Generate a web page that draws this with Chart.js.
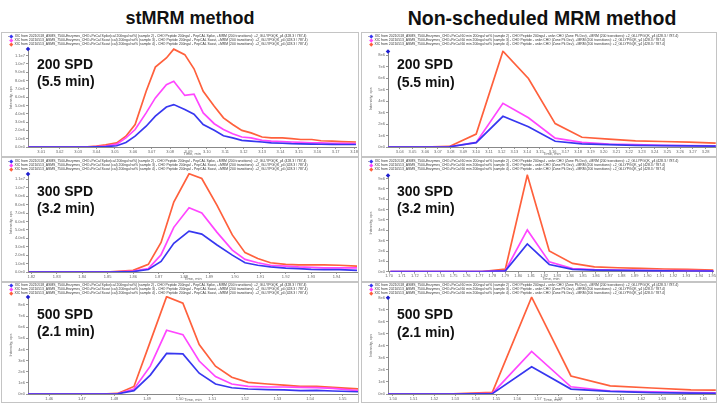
<!DOCTYPE html>
<html>
<head>
<meta charset="utf-8">
<script src="https://cdn.jsdelivr.net/npm/chart.js@4.4.1/dist/chart.umd.min.js"></script>
<style>
    body { margin: 0; background: #fff; font-family: "Liberation Sans", Arial, sans-serif; }
    #page { position: relative; width: 717px; height: 403px; overflow: hidden; }
    .title { position: absolute; top: 9px; font-weight: bold; font-size: 18px; line-height: 18px; transform: translateX(-50%); white-space: nowrap; color: #111; }
    .panel { position: absolute; border: 1px solid #c4c4c4; box-sizing: border-box; overflow: hidden; }
    .panel canvas { position: absolute; left: 0; top: 0; }
    .legend { position: absolute; left: 6px; font-size: 3.4px; line-height: 4px; white-space: nowrap; color: #333; }
    .legend i { display: inline-block; width: 2.5px; height: 2.5px; margin: 0 2px 0 1px; transform: rotate(45deg); }
    .spd { position: absolute; left: 35px; font-weight: bold; font-size: 14px; line-height: 17.4px; color: #111; white-space: nowrap; }
</style>
</head>
<body>
<div id="page">
    <div class="title" style="left:190px">stMRM method</div>
    <div class="title" style="left:542px;font-size:19.5px">Non-scheduled MRM method</div>

    <div class="panel" id="pTL" style="left:1px;top:32px;width:358px;height:125px"><canvas id="cTL" width="356" height="123"></canvas></div>
    <div class="panel" id="pTR" style="left:361px;top:32px;width:356px;height:125px"><canvas id="cTR" width="354" height="123"></canvas></div>
    <div class="panel" id="pML" style="left:1px;top:157px;width:358px;height:125px"><canvas id="cML" width="356" height="123"></canvas></div>
    <div class="panel" id="pMR" style="left:361px;top:157px;width:356px;height:125px"><canvas id="cMR" width="354" height="123"></canvas></div>
    <div class="panel" id="pBL" style="left:1px;top:282px;width:358px;height:121px"><canvas id="cBL" width="356" height="119"></canvas></div>
    <div class="panel" id="pBR" style="left:361px;top:282px;width:356px;height:121px"><canvas id="cBR" width="354" height="119"></canvas></div>
</div>
<script>
    // stMRM, 200 SPD
    const tlTime = [3.003, 3.014, 3.025, 3.035, 3.040, 3.045, 3.051, 3.056, 3.061, 3.067, 3.072, 3.078, 3.082, 3.088, 3.093, 3.098, 3.104, 3.109, 3.114, 3.119, 3.124, 3.130, 3.135, 3.141, 3.146, 3.151, 3.157, 3.162, 3.168, 3.173, 3.181];
    const tlBlue = [0, 0, 0, 0, 0.02, 0.05, 0.15, 0.55, 1.3, 2.5, 3.7, 4.8, 5.1, 4.5, 3.95, 2.7, 2.0, 1.35, 1.1, 0.8, 0.7, 0.6, 0.5, 0.45, 0.4, 0.38, 0.35, 0.33, 0.32, 0.3, 0.3];
    const tlPink = [0, 0, 0, 0, 0.05, 0.1, 0.35, 1.1, 2.1, 4.1, 5.9, 7.5, 7.9, 6.2, 6.35, 4.1, 2.8, 2.1, 1.6, 1.2, 1.1, 0.8, 0.7, 0.65, 0.6, 0.55, 0.5, 0.5, 0.45, 0.45, 0.4];
    const tlRed = [0, 0, 0, 0.02, 0.1, 0.25, 0.5, 1.3, 2.7, 6.7, 9.6, 10.7, 11.76, 11.1, 9.4, 6.7, 4.9, 3.5, 2.7, 2.0, 1.7, 1.2, 1.1, 1.1, 1.0, 0.9, 0.9, 0.75, 0.7, 0.65, 0.6];
    const tlTicks = [3.01, 3.02, 3.03, 3.04, 3.05, 3.06, 3.07, 3.08, 3.09, 3.10, 3.11, 3.12, 3.13, 3.14, 3.15, 3.16, 3.17, 3.18];

    // non-scheduled, 200 SPD
    const trTime = [3.016, 3.037, 3.058, 3.079, 3.100, 3.121, 3.141, 3.162, 3.183, 3.204, 3.225, 3.246, 3.267, 3.288];
    const trBlue = [0, 0, 0, 0.02, 0.38, 2.67, 1.76, 0.5, 0.28, 0.2, 0.15, 0.12, 0.1, 0.08];
    const trPink = [0, 0, 0, 0.02, 0.4, 3.8, 2.55, 0.77, 0.4, 0.25, 0.2, 0.15, 0.12, 0.1];
    const trRed = [0, 0, 0, 0.05, 1.13, 8.34, 5.96, 2.04, 0.85, 0.68, 0.54, 0.48, 0.43, 0.34];
    const trTicks = [3.04, 3.05, 3.06, 3.07, 3.08, 3.09, 3.10, 3.11, 3.12, 3.13, 3.14, 3.15, 3.16, 3.17, 3.18, 3.19, 3.20, 3.21, 3.22, 3.23, 3.24, 3.25, 3.26, 3.27, 3.28];

    // stMRM, 300 SPD
    const mlTime = [1.819, 1.830, 1.841, 1.851, 1.860, 1.866, 1.871, 1.876, 1.882, 1.887, 1.893, 1.899, 1.904, 1.909, 1.914, 1.920, 1.925, 1.930, 1.935, 1.941, 1.948];
    const mlBlue = [0, 0, 0, 0, 0.05, 0.3, 1.26, 3.4, 4.86, 4.5, 3.2, 2.0, 1.1, 0.8, 0.6, 0.45, 0.4, 0.32, 0.28, 0.28, 0.2];
    const mlPink = [0, 0, 0, 0, 0.1, 0.4, 2.05, 5.3, 7.63, 7.0, 4.7, 2.6, 1.5, 1.1, 0.8, 0.7, 0.6, 0.55, 0.5, 0.5, 0.48];
    const mlRed = [0, 0, 0, 0.02, 0.2, 0.9, 3.5, 8.3, 11.66, 11.1, 7.9, 4.4, 2.3, 1.6, 1.1, 0.9, 0.85, 0.85, 0.85, 0.8, 0.7];
    const mlTicks = [1.82, 1.83, 1.84, 1.85, 1.86, 1.87, 1.88, 1.89, 1.90, 1.91, 1.92, 1.93, 1.94];

    // non-scheduled, 300 SPD
    const mrTime = [1.701, 1.718, 1.736, 1.754, 1.772, 1.790, 1.807, 1.824, 1.842, 1.859, 1.877, 1.895, 1.913, 1.931, 1.951];
    const mrBlue = [0, 0, 0, 0, 0, 0.08, 2.68, 0.7, 0.22, 0.15, 0.12, 0.1, 0.08, 0.07, 0.06];
    const mrPink = [0, 0, 0, 0, 0, 0.1, 4.04, 0.95, 0.3, 0.2, 0.15, 0.12, 0.1, 0.1, 0.08];
    const mrRed = [0, 0, 0, 0, 0.02, 0.25, 9.35, 2.0, 0.8, 0.47, 0.38, 0.32, 0.26, 0.22, 0.15];
    const mrTicks = [1.70, 1.71, 1.72, 1.73, 1.74, 1.75, 1.76, 1.77, 1.78, 1.79, 1.80, 1.81, 1.82, 1.83, 1.84, 1.85, 1.86, 1.87, 1.88, 1.89, 1.90, 1.91, 1.92, 1.93, 1.94, 1.95];

    // stMRM, 500 SPD
    const blTime = [1.4535, 1.460, 1.466, 1.471, 1.476, 1.481, 1.486, 1.491, 1.496, 1.501, 1.506, 1.511, 1.516, 1.521, 1.527, 1.532, 1.537, 1.542, 1.547, 1.555];
    const blBlue = [0, 0, 0, 0, 0, 0.02, 0.3, 1.7, 3.64, 3.6, 1.87, 0.9, 0.56, 0.45, 0.4, 0.37, 0.3, 0.33, 0.27, 0.2];
    const blPink = [0, 0, 0, 0, 0, 0.02, 0.45, 2.5, 5.72, 5.33, 2.96, 1.57, 0.9, 0.68, 0.63, 0.63, 0.6, 0.57, 0.5, 0.3];
    const blRed = [0, 0, 0, 0, 0, 0.05, 0.68, 4.7, 8.74, 8.15, 4.44, 2.5, 1.5, 1.04, 0.9, 0.8, 0.68, 0.68, 0.6, 0.45];
    const blTicks = [1.46, 1.47, 1.48, 1.49, 1.50, 1.51, 1.52, 1.53, 1.54, 1.55];

    // non-scheduled, 500 SPD
    const brTime = [1.491, 1.510, 1.529, 1.548, 1.567, 1.586, 1.605, 1.625, 1.644, 1.656];
    const brBlue = [0, 0, 0, 0.03, 2.27, 0.41, 0.22, 0.12, 0.08, 0.06];
    const brPink = [0, 0, 0, 0.05, 3.55, 0.6, 0.25, 0.18, 0.12, 0.1];
    const brRed = [0, 0, 0.02, 0.14, 8.06, 1.5, 0.68, 0.5, 0.35, 0.33];
    const brTicks = [1.50, 1.51, 1.52, 1.53, 1.54, 1.55, 1.56, 1.57, 1.58, 1.59, 1.60, 1.61, 1.62, 1.63, 1.64, 1.65];

    const stLegend = [
        "XIC from 20210518_ASMS_7500-Enzymes_CHO+PeCal Spike(cal 200ngul wt%) (sample 2) - CHO Peptide 200ngul - PepCAL Spike, +MRM (200 transitions): +2_GLLYPGQK_y4 (428.3 / 787.4)",
        "XIC from 20210513_ASMS_7500-Enzymes_CHO+PeCal Scout (cal) 200ngul wt% (sample 3) - CHO Peptide 200ngul - PepCAL Scout, +MRM (200 transitions): +2_GLLYPGQK_y4 (428.3 / 787.4)",
        "XIC from 20210513_ASMS_7500-Enzymes_CHO+PeCal Scout (cal) 200ngul wt% (sample 4) - CHO Peptide 200ngul - PepCAL Scout, +MRM (200 transitions): +2_GLLYPGQK_y4 (428.3 / 787.4)",
    ];
    const nsLegend = [
        "XIC from 20210518_ASMS_7500-Enzymes_CHO+PeCal 60 min 200ngul wt% (sample 2) - CHO Peptide 200ngul - unkn CHO (Zone Pk Dev), +MRM (200 transitions): +2_GLLYPGQK_y4 (428.3 / 787.4)",
        "XIC from 20210513_ASMS_7500-Enzymes_CHO+PeCal 60 min 200ngul wt% (sample 3) - CHO Peptide - unkn CHO (Zone Pk Dev), +MRM (200 transitions): +2_GLLYPGQK_y4 (428.3 / 787.4)",
        "XIC from 20210513_ASMS_7500-Enzymes_CHO+PeCal 60 min 200ngul wt% (sample 4) - CHO Peptide - unkn CHO (Zone Pk Dev), +MRM (200 transitions): +2_GLLYPGQK_y4 (428.3 / 787.4)",
    ];

    const BLUE = "rgb(55, 55, 240)";
    const PINK = "rgb(255, 70, 255)";
    const RED = "rgb(255, 96, 60)";

    Chart.defaults.font.family = "'Liberation Sans', Arial, sans-serif";

    const longFmt = (v) => (v === 0 ? "0.0e0" : (v * 1e6).toExponential(1).replace("+", ""));
    const shortFmt = (v) => (v === 0 ? "0e0" : (v * 1e6).toExponential(0).replace("+", ""));

    // little blue selection marker that Analyst puts at the top of the y axis
    const cornerMark = {
        id: "cornerMark",
        afterDraw(chart) {
            const { ctx, chartArea } = chart;
            ctx.save();
            ctx.fillStyle = "#1f1fd0";
            ctx.translate(chartArea.left, chartArea.top + 1);
            ctx.rotate(Math.PI / 4);
            ctx.fillRect(-1.6, -1.6, 3.2, 3.2);
            ctx.restore();
        },
    };

    function pts(time, vals) {
        return time.map((t, i) => ({ x: t, y: vals[i] }));
    }

    function addOverlay(panelId, legendLines, legendTop, spdText, spdTop) {
        const panel = document.getElementById(panelId);
        const colors = [BLUE, PINK, RED];
        legendLines.forEach((txt, i) => {
            const d = document.createElement("div");
            d.className = "legend";
            d.style.top = legendTop + i * 4 + "px";
            d.innerHTML = (i === 0 ? "-" : "&nbsp;") + '<i style="background:' + colors[i] + '"></i>';
            d.appendChild(document.createTextNode(txt));
            panel.appendChild(d);
        });
        const s = document.createElement("div");
        s.className = "spd";
        s.style.top = spdTop + "px";
        s.innerHTML = spdText[0] + "<br>" + spdText[1];
        panel.appendChild(s);
    }

    function makeChart(id, cfg) {
        const tickFont = { size: 4 };
        new Chart(document.getElementById(id), {
            type: "line",
            data: {
                datasets: [
                    { label: "sample 2", data: pts(cfg.time, cfg.blue), borderColor: BLUE },
                    { label: "sample 3", data: pts(cfg.time, cfg.pink), borderColor: PINK },
                    { label: "sample 4", data: pts(cfg.time, cfg.red), borderColor: RED },
                ],
            },
            options: {
                responsive: false,
                animation: false,
                layout: { padding: { top: cfg.top, right: 0, bottom: 0, left: 0 } },
                elements: {
                    point: { radius: 0 },
                    line: { borderWidth: 1.7, tension: 0, fill: false },
                },
                plugins: {
                    legend: { display: false },
                    tooltip: { enabled: false },
                },
                scales: {
                    x: {
                        type: "linear",
                        min: cfg.xMin,
                        max: cfg.xMax,
                        afterBuildTicks: (s) => {
                            s.ticks = cfg.ticks.map((v) => ({ value: v }));
                        },
                        afterFit: (s) => {
                            s.height = cfg.bottom;
                        },
                        ticks: {
                            font: tickFont,
                            color: "#666",
                            padding: 0,
                            maxRotation: 0,
                            autoSkip: false,
                            callback: (v) => v.toFixed(2),
                        },
                        grid: { drawOnChartArea: false, tickLength: 2, color: "#999" },
                        border: { color: "#888" },
                        title: { display: true, text: "Time, min", font: tickFont, color: "#666", padding: 0 },
                    },
                    y: {
                        min: 0,
                        max: cfg.yMax,
                        afterFit: (s) => {
                            s.width = 26;
                        },
                        ticks: {
                            stepSize: 1,
                            includeBounds: false,
                            font: tickFont,
                            color: "#666",
                            padding: 1,
                            callback: cfg.fmt,
                        },
                        grid: { drawOnChartArea: false, tickLength: 2, color: "#999" },
                        border: { color: "#888" },
                        title: {
                            display: true,
                            text: "Intensity, cps",
                            font: tickFont,
                            color: "#666",
                            padding: { top: 6, bottom: 0 },
                        },
                    },
                },
            },
            plugins: [cornerMark],
        });
    }

    makeChart("cTL", { time: tlTime, blue: tlBlue, pink: tlPink, red: tlRed, ticks: tlTicks, xMin: 3.0028, xMax: 3.1812, yMax: 11.9, fmt: longFmt, top: 15, bottom: 9 });
    makeChart("cTR", { time: trTime, blue: trBlue, pink: trPink, red: trRed, ticks: trTicks, xMin: 3.0308, xMax: 3.2882, yMax: 8.4, fmt: shortFmt, top: 17.5, bottom: 9 });
    makeChart("cML", { time: mlTime, blue: mlBlue, pink: mlPink, red: mlRed, ticks: mlTicks, xMin: 1.8187, xMax: 1.9484, yMax: 11.75, fmt: longFmt, top: 15, bottom: 9 });
    makeChart("cMR", { time: mrTime, blue: mrBlue, pink: mrPink, red: mrRed, ticks: mrTicks, xMin: 1.6992, xMax: 1.9513, yMax: 9.4, fmt: shortFmt, top: 16.5, bottom: 9.3 });
    makeChart("cBL", { time: blTime, blue: blBlue, pink: blPink, red: blRed, ticks: blTicks, xMin: 1.4535, xMax: 1.5547, yMax: 8.8, fmt: shortFmt, top: 13, bottom: 8 });
    makeChart("cBR", { time: brTime, blue: brBlue, pink: brPink, red: brRed, ticks: brTicks, xMin: 1.4976, xMax: 1.6561, yMax: 8.1, fmt: shortFmt, top: 13.7, bottom: 8 });

    addOverlay("pTL", stLegend, 1, ["200 SPD", "(5.5 min)"], 22.7);
    addOverlay("pTR", nsLegend, 1, ["200 SPD", "(5.5 min)"], 23.4);
    addOverlay("pML", stLegend, 1, ["300 SPD", "(3.2 min)"], 25);
    addOverlay("pMR", nsLegend, 1, ["300 SPD", "(3.2 min)"], 25);
    addOverlay("pBL", stLegend, 0, ["500 SPD", "(2.1 min)"], 22.7);
    addOverlay("pBR", nsLegend, 0, ["500 SPD", "(2.1 min)"], 23.4);
</script>
</body>
</html>
